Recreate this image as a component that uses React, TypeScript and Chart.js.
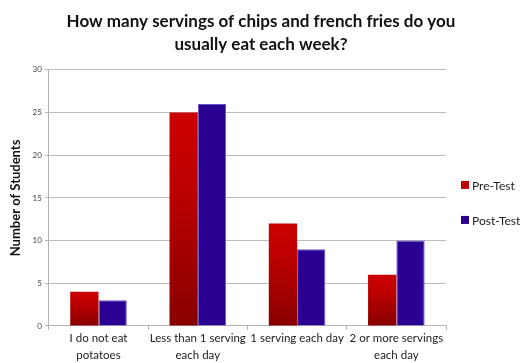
import React, { useEffect, useRef } from "react";
import { Chart, registerables } from "chart.js";

Chart.register(...registerables);

const categories: (string | string[])[] = [
  ["I do not eat", "potatoes"],
  ["Less than 1 serving", "each day"],
  "1 serving each day",
  ["2 or more servings", "each day"],
];
const preTest = [4, 25, 12, 6];
const postTest = [3, 26, 9, 10];
const yTicks = [0, 5, 10, 15, 20, 25, 30];
const seriesNames = ["Pre-Test", "Post-Test"];
const seriesColors = ["#c00000", "#2a0092"];

const FONT = "Lato, 'Open Sans', sans-serif";

// Each red bar shades from bright red at its top to dark red at its base.
function redGradient(ctx: any) {
  const chart = ctx.chart;
  const area = chart.chartArea;
  if (!area || ctx.type !== "data") return "#b00000";
  const y = chart.scales.y;
  const top = y.getPixelForValue(ctx.raw);
  const base = y.getPixelForValue(0);
  if (!isFinite(top) || !isFinite(base) || top === base) return "#b00000";
  const g = chart.ctx.createLinearGradient(0, top, 0, base);
  g.addColorStop(0, "#cc0000");
  g.addColorStop(0.35, "#bc0000");
  g.addColorStop(1, "#880000");
  return g;
}

// Legend drawn in the space kept free on the right of the plot.
const sideLegend = {
  id: "sideLegend",
  afterDraw(chart: any) {
    const { ctx, chartArea } = chart;
    const x = chartArea.right + 15;
    const midY = (chartArea.top + chartArea.bottom) / 2;
    const gap = 35;
    ctx.save();
    ctx.font = `12px ${FONT}`;
    ctx.textBaseline = "middle";
    ctx.textAlign = "left";
    chart.data.datasets.forEach((ds: any, i: number) => {
      const cy = midY - 13 + i * gap;
      ctx.fillStyle = seriesColors[i];
      ctx.fillRect(x, cy - 4, 8, 8);
      ctx.fillStyle = "#222";
      ctx.fillText(ds.label, x + 11, cy + 1);
    });
    ctx.restore();
  },
};

export default function App() {
  const ref = useRef<HTMLCanvasElement>(null);
  useEffect(() => {
    if (!ref.current) return;
    const chart = new Chart(ref.current, {
      type: "bar",
      data: {
        labels: categories,
        datasets: [
          {
            label: seriesNames[0],
            data: preTest,
            backgroundColor: redGradient,
            borderWidth: 0,
          },
          {
            label: seriesNames[1],
            data: postTest,
            backgroundColor: seriesColors[1],
            borderColor: "#6258c8",
            borderWidth: 1,
          },
        ],
      },
      plugins: [sideLegend],
      options: {
        animation: false,
        responsive: true,
        maintainAspectRatio: false,
        layout: { padding: { left: 8, right: 10, top: 10, bottom: -1 } },
        datasets: {
          bar: { categoryPercentage: 0.57, barPercentage: 1 },
        },
        plugins: {
          title: {
            display: true,
            text: [
              "How many servings of chips and french fries do you",
              "usually eat each week?",
            ],
            color: "#111",
            font: { family: FONT, size: 17, weight: "bold", lineHeight: 1.35 },
            padding: { top: 0, bottom: 14 },
          },
          legend: { display: false },
          tooltip: { enabled: false },
        },
        scales: {
          x: {
            grid: {
              drawOnChartArea: false,
              drawTicks: true,
              tickLength: 4,
              color: "#b4b4b4",
            },
            border: { color: "#b4b4b4" },
            ticks: {
              color: "#222",
              font: { family: FONT, size: 11.5, lineHeight: 1.48 },
              maxRotation: 0,
              autoSkip: false,
              padding: 0,
            },
          },
          y: {
            min: 0,
            max: 30,
            afterBuildTicks: (s: any) => {
              s.ticks = yTicks.map((v) => ({ value: v }));
            },
            grid: { color: "#bcbcbc", tickLength: 4 },
            border: { color: "#b4b4b4" },
            ticks: {
              color: "#444",
              font: { family: FONT, size: 8 },
              padding: 3,
            },
            title: {
              display: true,
              text: "Number of Students",
              color: "#111",
              font: { family: FONT, size: 13, weight: "bold" },
              padding: { top: 0, bottom: 6 },
            },
          },
          // keeps room on the right for the legend
          side: {
            type: "linear",
            position: "right",
            display: true,
            grid: { display: false },
            border: { display: false },
            ticks: { display: false },
            afterFit: (s: any) => {
              s.width = 68;
            },
          },
        },
      },
    });
    return () => chart.destroy();
  }, []);
  return (
    <div style={{ position: "fixed", left: 0, top: 0, width: 524, height: 363, background: "#fff" }}>
      <canvas ref={ref} />
    </div>
  );
}
